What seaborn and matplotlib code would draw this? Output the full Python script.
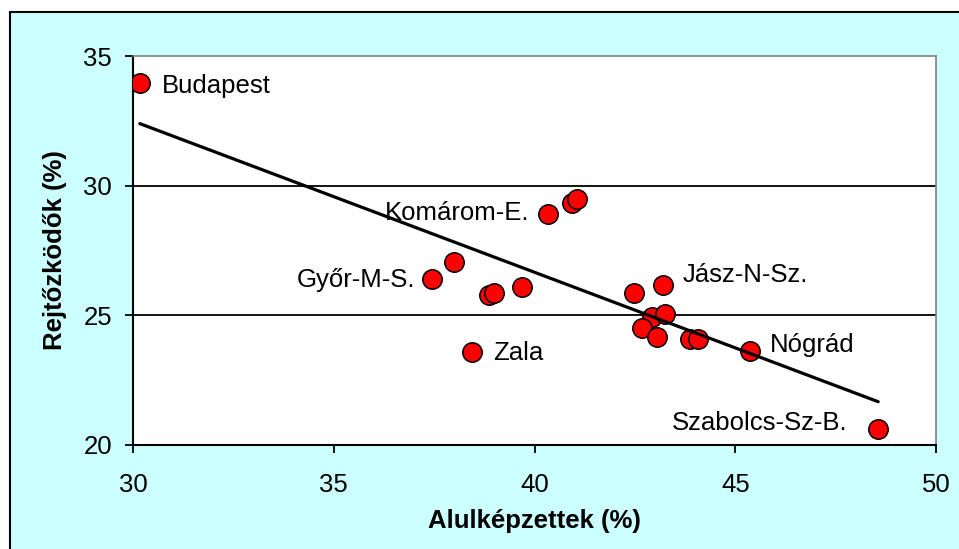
import numpy as np
import pandas as pd
import seaborn as sns
import matplotlib.pyplot as plt
from matplotlib.patches import Rectangle

# share of low-educated (x) vs "hiding" voters (y), by county
alulkepzettek = [30.17, 40.33, 40.93, 41.05, 37.44, 38.00, 38.87, 39.00, 39.68, 38.45,
                 42.49, 43.21, 42.92, 43.25, 42.67, 43.04, 43.87, 44.08, 45.37, 48.56]
rejtozkodok = [33.96, 28.91, 29.34, 29.47, 26.40, 27.07, 25.79, 25.88, 26.09, 23.60,
               25.85, 26.17, 24.95, 25.04, 24.50, 24.15, 24.07, 24.09, 23.63, 20.62]
megyek = ["Budapest", "Komárom-E.", "", "", "Győr-M-S.", "", "", "", "", "Zala",
          "", "Jász-N-Sz.", "", "", "", "", "", "", "Nógrád", "Szabolcs-Sz-B."]

x_ticks = [30, 35, 40, 45, 50]
y_ticks = [20, 25, 30, 35]

# label placement (offset in points, horizontal alignment)
label_pos = {
    "Budapest": (16, -2, "left"),
    "Komárom-E.": (-13, 1, "right"),
    "Győr-M-S.": (-12, -1, "right"),
    "Zala": (15, -1, "left"),
    "Jász-N-Sz.": (14, 7, "left"),
    "Nógrád": (14, 4, "left"),
    "Szabolcs-Sz-B.": (-22, 4, "right"),
}

FS = 18.5

df = pd.DataFrame({"x": alulkepzettek, "y": rejtozkodok, "nev": megyek})

sns.set_style("white")
plt.rcParams['font.family'] = ['Liberation Sans', 'DejaVu Sans']
plt.rcParams['text.color'] = 'black'
plt.rcParams['axes.labelcolor'] = 'black'

fig = plt.figure(figsize=(9.59, 5.49), dpi=100, facecolor="white")
# cyan chart area with black frame, cut off at right and bottom
fig.patches.append(Rectangle((10 / 959, -0.05), 1.2, 1 - 12 / 549 + 0.05,
                             transform=fig.transFigure, facecolor="#CCFFFF",
                             edgecolor="black", linewidth=1.5, zorder=-1))

ax = fig.add_axes([133 / 959, 1 - 445 / 549, 803 / 959, 389 / 549])
ax.set_facecolor("white")

for g in [25, 30]:
    ax.axhline(g, color="black", linewidth=1.3, zorder=1)

sns.scatterplot(data=df, x="x", y="y", ax=ax, s=195, color="#FF0000",
                edgecolor="black", linewidth=1.1, zorder=3, legend=False)
sns.regplot(data=df, x="x", y="y", ax=ax, scatter=False, ci=None, truncate=True,
            line_kws={"color": "black", "linewidth": 2.3, "zorder": 4})

for _, row in df.iterrows():
    if row["nev"]:
        dx, dy, ha = label_pos[row["nev"]]
        ax.annotate(row["nev"], (row["x"], row["y"]), xytext=(dx, dy),
                    textcoords="offset points", ha=ha, va="center",
                    fontsize=FS, color="black", zorder=5)

ax.set_xlim(30, 50)
ax.set_ylim(20, 35)
ax.set_xticks(x_ticks)
ax.set_yticks(y_ticks)
ax.tick_params(axis="x", direction="out", length=6, width=1.3, pad=14,
               labelsize=FS, colors="black", bottom=True)
ax.tick_params(axis="y", direction="out", length=6, width=1.3, pad=9,
               labelsize=FS, colors="black", left=True)

ax.set_xlabel("Alulképzettek (%)", fontsize=FS, fontweight="bold", labelpad=9,
              color="black")
ax.set_ylabel("Rejtőzködők (%)", fontsize=FS, fontweight="bold", labelpad=12,
              color="black")

for side in ["left", "bottom"]:
    ax.spines[side].set_color("black")
    ax.spines[side].set_linewidth(1.5)
for side in ["top", "right"]:
    ax.spines[side].set_color("#808080")
    ax.spines[side].set_linewidth(1.2)

fig.savefig("out.png", dpi=100, facecolor="white")
